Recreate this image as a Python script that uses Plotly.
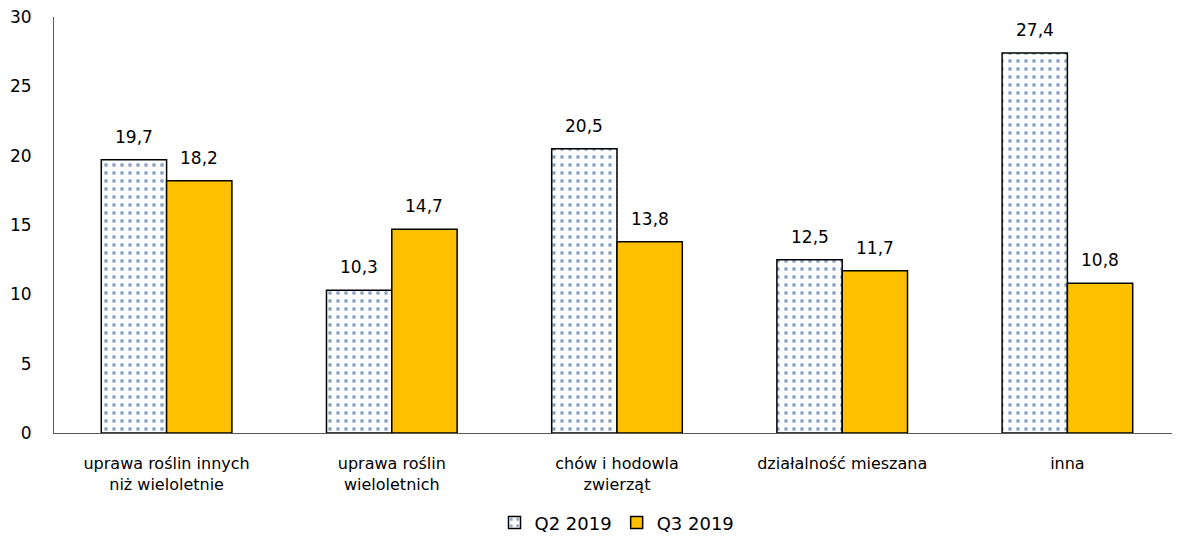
import plotly.graph_objects as go

categories = [
    "uprawa roślin innych<br>niż wieloletnie",
    "uprawa roślin<br>wieloletnich",
    "chów i hodowla<br>zwierząt",
    "działalność mieszana",
    "inna",
]
q2_2019 = [19.7, 10.3, 20.5, 12.5, 27.4]
q3_2019 = [18.2, 14.7, 13.8, 11.7, 10.8]
y_ticks = [0, 5, 10, 15, 20, 25, 30]

FONT = "DejaVu Sans"
BARGAP = 0.42
PLOT_W = 1126
X_RANGE = [-0.5, 4.5]
slot_px = PLOT_W / (X_RANGE[1] - X_RANGE[0])
bar_px = slot_px * (1 - BARGAP) / 2

fig = go.Figure()
fig.add_trace(go.Bar(
    name="Q2 2019",
    x=categories,
    y=q2_2019,
    marker=dict(
        color="#FFFFFF",
        line=dict(color="#000000", width=1.5),
        pattern=dict(shape=".", fgcolor="#1F4E96", bgcolor="#FFFFFF",
                     size=8, solidity=0.18, fillmode="overlay"),
    ),
))
fig.add_trace(go.Bar(
    name="Q3 2019",
    x=categories,
    y=q3_2019,
    marker=dict(color="#FFC000", line=dict(color="#000000", width=1.5)),
))

annotations = []
for series, shift in ((q2_2019, -bar_px / 2), (q3_2019, bar_px / 2)):
    for cat, val in zip(categories, series):
        annotations.append(dict(
            x=cat, y=val, xref="x", yref="y",
            text=f"{val:.1f}".replace(".", ","),
            showarrow=False,
            xshift=shift, yshift=23,
            xanchor="center", yanchor="middle",
            font=dict(family=FONT, size=17, color="#000000"),
        ))

fig.update_layout(
    width=1172,
    height=539,
    margin=dict(l=46, r=0, t=9, b=114),
    paper_bgcolor="white",
    plot_bgcolor="white",
    barmode="group",
    bargap=BARGAP,
    bargroupgap=0,
    separators=", ",
    font=dict(family=FONT, size=16, color="#000000"),
    showlegend=True,
    annotations=annotations,
    legend=dict(
        orientation="h",
        x=0.5, xanchor="center",
        y=-0.216, yanchor="middle",
        font=dict(family=FONT, size=18, color="#000000"),
        itemwidth=30,
    ),
    xaxis=dict(
        range=X_RANGE,
        showline=True, linecolor="#595959", linewidth=1,
        ticks="", showgrid=False,
        ticklabelstandoff=16,
        tickfont=dict(family=FONT, size=16, color="#000000"),
    ),
    yaxis=dict(
        range=[0, 30],
        tickvals=y_ticks,
        showline=True, linecolor="#595959", linewidth=1,
        ticks="", showgrid=False, zeroline=False,
        ticklabelstandoff=18,
        ticklabeloverflow="allow",
        tickfont=dict(family=FONT, size=17, color="#000000"),
    ),
)

fig.write_html("out.html")
